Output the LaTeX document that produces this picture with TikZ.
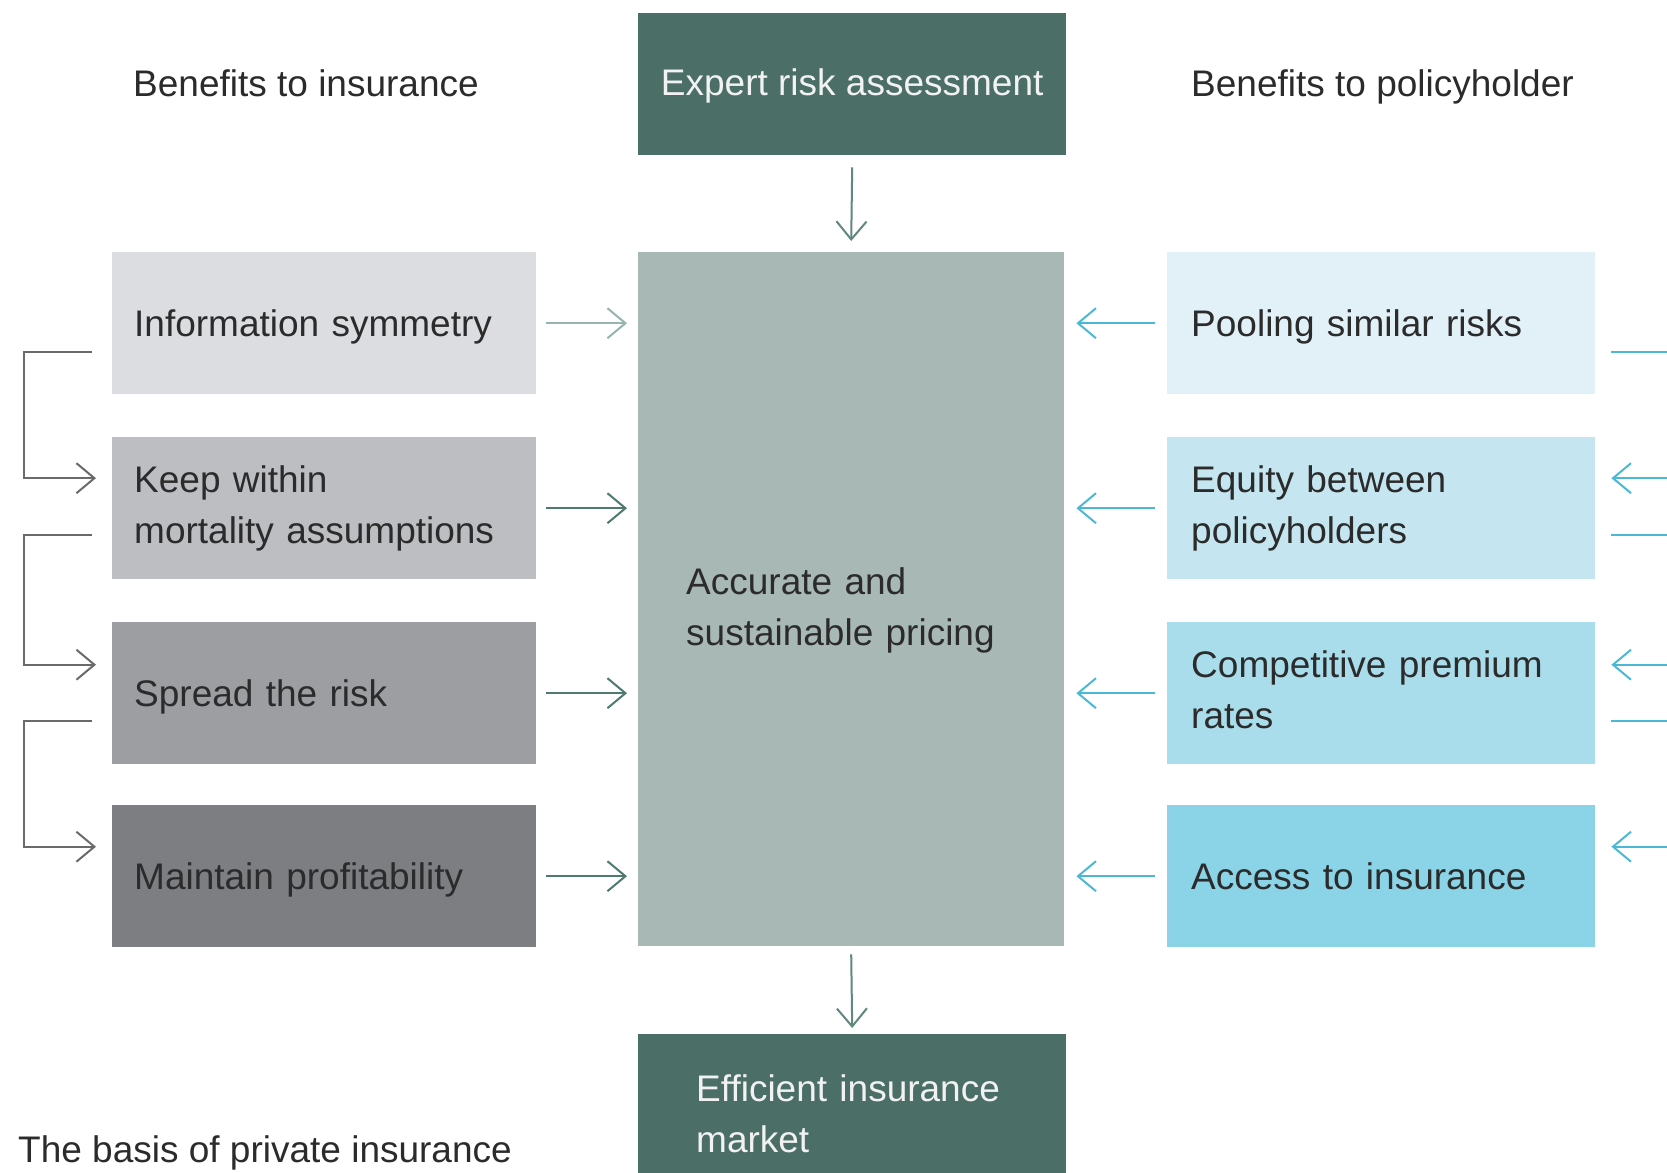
\documentclass[tikz,border=0pt]{standalone}
\usepackage{fontspec}
\setmainfont{Liberation Sans}
\usetikzlibrary{arrows.meta}

\definecolor{darkteal}{HTML}{4B6E67}
\definecolor{midteal}{HTML}{A8B8B5}
\definecolor{greyA}{HTML}{DCDDE0}
\definecolor{greyB}{HTML}{BDBEC1}
\definecolor{greyC}{HTML}{9D9EA2}
\definecolor{greyD}{HTML}{7D7E82}
\definecolor{blueA}{HTML}{E1F1F7}
\definecolor{blueB}{HTML}{C5E6F0}
\definecolor{blueC}{HTML}{A9DDEC}
\definecolor{blueD}{HTML}{8BD3E6}
\definecolor{arrteal}{HTML}{4E7A72}
\definecolor{arrteallight}{HTML}{98B4AE}
\definecolor{arrcyan}{HTML}{4BB9D5}
\definecolor{brkgrey}{HTML}{6A6A6A}
\definecolor{txt}{HTML}{2B2B2B}
\definecolor{lighttxt}{HTML}{F2F2F2}

\tikzset{
  bigfont/.style={font=\fontsize{37}{51}\selectfont},
  box/.style={rectangle, anchor=north west, inner xsep=22pt, inner ysep=0pt,
    minimum height=142pt, align=left, text=txt, bigfont},
  leftbox/.style={box, text width=380pt},
  rightbox/.style={box, inner xsep=24pt, text width=380pt},
  oneline/.style={text height=35pt, text depth=8pt},
  headbox/.style={rectangle, anchor=north west, fill=darkteal, text=lighttxt,
    bigfont, inner sep=0pt},
  label/.style={anchor=base west, inner sep=0pt, text=txt, bigfont},
  tip/.style={-{Straight Barb[length=18pt,width=30pt,line width=2pt]}},
  flow/.style={tip, line width=2pt},
  brk/.style={line width=2pt, brkgrey, tip},
}

\begin{document}
\begin{tikzpicture}[x=1pt,y=-1pt]
\clip (0,0) rectangle (1667,1172);
\fill[white] (0,0) rectangle (1667,1172);

% column headings and caption
\node[label] (hl) at (133,96.5) {Benefits to insurance};
\node[label] (hr) at (1191,96.5) {Benefits to policyholder};
\node[label] (foot) at (18,1162) {The basis of private insurance};

% central column
\node[headbox, minimum width=428pt, minimum height=142pt, align=center,
  text height=31pt, text depth=8pt]
  (expert) at (638,13) {Expert risk assessment};
\node[rectangle, anchor=north west, fill=midteal, minimum height=694pt,
  inner xsep=48pt, inner ysep=0pt, text width=330pt, align=left, text=txt, bigfont]
  (pricing) at (638,252) {\rule{0pt}{49pt}Accurate and\\sustainable pricing};
\node[headbox, minimum height=160pt, inner xsep=58pt, text width=312pt, align=left]
  (market) at (638,1034) {Efficient insurance\\market};

% insurer side
\node[leftbox, oneline, fill=greyA] (info)   at (112,252) {Information symmetry};
\node[leftbox, fill=greyB] (keep)   at (112,437) {Keep within\\mortality assumptions};
\node[leftbox, oneline, fill=greyC] (spread) at (112,622) {Spread the risk};
\node[leftbox, oneline, fill=greyD] (profit) at (112,805) {Maintain profitability};

% policyholder side
\node[rightbox, oneline, fill=blueA] (pool)   at (1167,252) {Pooling similar risks};
\node[rightbox, fill=blueB] (equity) at (1167,437) {Equity between\\policyholders};
\node[rightbox, fill=blueC] (rates)  at (1167,622) {Competitive premium\\rates\vphantom{y}};
\node[rightbox, oneline, fill=blueD] (access) at (1167,805) {Access to insurance};

% vertical flow
\draw[flow, arrteal!90] ([yshift=-12pt]expert.south) -- ([yshift=11pt]pricing.north);
\draw[flow, arrteal!90] ([yshift=-8pt]pricing.south) -- ([yshift=6pt]market.north);

% insurer benefits into pricing
\draw[flow, arrteallight] ([xshift=10pt]info.east) -- ([xshift=-11pt]info.east -| pricing.west);
\foreach \n in {keep,spread,profit}
  \draw[flow, arrteal] ([xshift=10pt]\n.east) -- ([xshift=-11pt]\n.east -| pricing.west);

% policyholder benefits into pricing
\foreach \n in {pool,equity,rates,access}
  \draw[flow, arrcyan] ([xshift=-12pt]\n.west) -- ([xshift=12pt]\n.west -| pricing.east);

% cascade brackets, insurer side
\draw[brk] ([shift={(-20pt,-29pt)}]info.west) -- ++(-68,0)
  |- ([shift={(-16pt,30pt)}]keep.west);
\draw[brk] ([shift={(-20pt,-27pt)}]keep.west) -- ++(-68,0)
  |- ([shift={(-16pt,28.5pt)}]spread.west);
\draw[brk] ([shift={(-20pt,-27.5pt)}]spread.west) -- ++(-68,0)
  |- ([shift={(-16pt,29.5pt)}]profit.west);

% cascade brackets, policyholder side
\draw[brk, arrcyan] ([shift={(16pt,-29pt)}]pool.east) -- ++(68,0)
  |- ([shift={(16pt,30pt)}]equity.east);
\draw[brk, arrcyan] ([shift={(16pt,-27pt)}]equity.east) -- ++(68,0)
  |- ([shift={(16pt,28.5pt)}]rates.east);
\draw[brk, arrcyan] ([shift={(16pt,-27.5pt)}]rates.east) -- ++(68,0)
  |- ([shift={(16pt,29.5pt)}]access.east);
\end{tikzpicture}
\end{document}
